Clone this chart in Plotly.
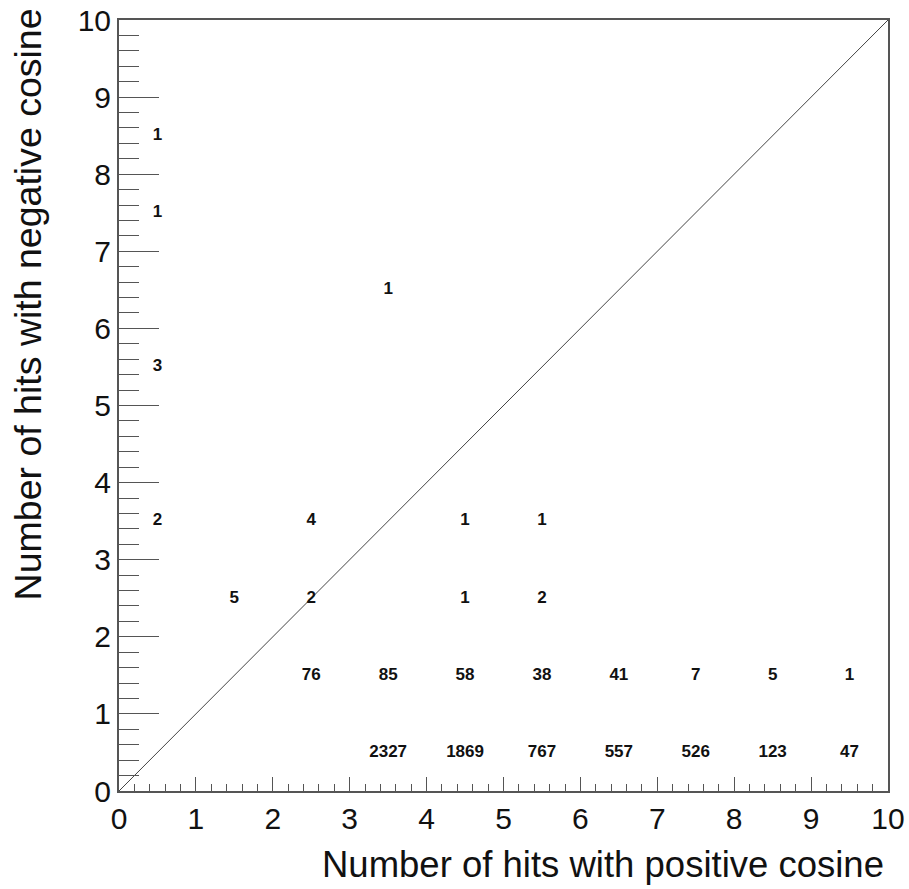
import plotly.graph_objects as go

# Bin contents of the 2D histogram (bin centres and counts)
bin_x = [3.5, 4.5, 5.5, 6.5, 7.5, 8.5, 9.5,
         2.5, 3.5, 4.5, 5.5, 6.5, 7.5, 8.5, 9.5,
         1.5, 2.5, 4.5, 5.5,
         0.5, 2.5, 4.5, 5.5,
         0.5, 3.5, 0.5, 0.5]
bin_y = [0.5, 0.5, 0.5, 0.5, 0.5, 0.5, 0.5,
         1.5, 1.5, 1.5, 1.5, 1.5, 1.5, 1.5, 1.5,
         2.5, 2.5, 2.5, 2.5,
         3.5, 3.5, 3.5, 3.5,
         5.5, 6.5, 7.5, 8.5]
counts = [2327, 1869, 767, 557, 526, 123, 47,
          76, 85, 58, 38, 41, 7, 5, 1,
          5, 2, 1, 2,
          2, 4, 1, 1,
          3, 1, 1, 1]

diag_x = [0, 10]
diag_y = [0, 10]

FONT = "Liberation Sans, Arial, Helvetica, sans-serif"
AXIS_COLOR = "#555555"

fig = go.Figure()

fig.add_trace(go.Scatter(
    x=diag_x, y=diag_y, mode="lines",
    line=dict(color="#444444", width=1),
    hoverinfo="skip", showlegend=False,
))

fig.add_trace(go.Scatter(
    x=bin_x, y=bin_y, mode="text",
    text=[str(c) for c in counts],
    textfont=dict(family=FONT, size=17, color="#111111", weight="bold"),
    textposition="middle center",
    showlegend=False,
))

common_axis = dict(
    range=[0, 10],
    automargin=False,
    showgrid=False, zeroline=False,
    showline=True, linecolor=AXIS_COLOR, linewidth=2, mirror=True,
    ticks="inside", tickcolor=AXIS_COLOR, tickwidth=1,
    dtick=1, tick0=0,
    tickfont=dict(family=FONT, size=30, color="#111111"),
)

fig.update_layout(
    width=909, height=889,
    margin=dict(l=119, r=21, t=20, b=98, autoexpand=False),
    paper_bgcolor="white", plot_bgcolor="white",
    xaxis=dict(**common_axis, ticklen=14,
               minor=dict(dtick=0.2, ticks="inside", ticklen=7,
                          tickcolor=AXIS_COLOR, tickwidth=1)),
    yaxis=dict(**common_axis, ticklen=40,
               minor=dict(dtick=0.2, ticks="inside", ticklen=20,
                          tickcolor=AXIS_COLOR, tickwidth=1)),
    annotations=[
        dict(text="Number of hits with positive cosine",
             xref="paper", yref="paper", x=0.997, y=-0.066,
             xanchor="right", yanchor="top", showarrow=False,
             font=dict(family=FONT, size=36.5, color="#111111")),
        dict(text="Number of hits with negative cosine",
             xref="paper", yref="paper", x=-0.118, y=1.018,
             xanchor="center", yanchor="top", showarrow=False,
             textangle=-90,
             font=dict(family=FONT, size=37.5, color="#111111")),
    ],
)

fig.write_html("out.html")
